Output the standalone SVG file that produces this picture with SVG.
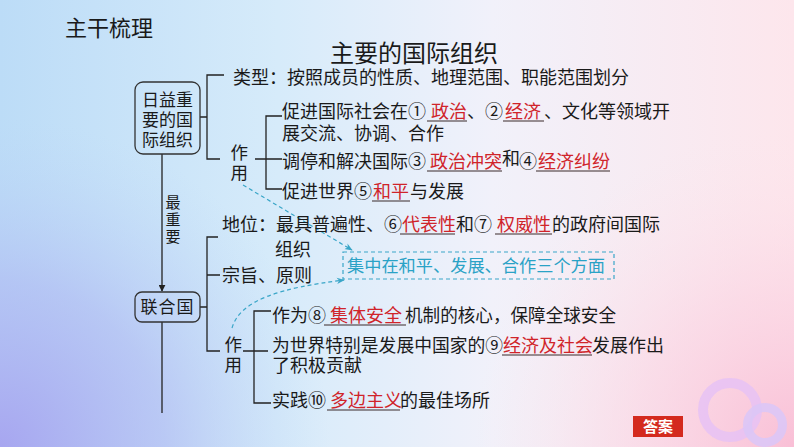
<svg xmlns="http://www.w3.org/2000/svg" width="794" height="447" viewBox="0 0 794 447">
<defs>
<linearGradient id="bgx" x1="0" y1="0" x2="1" y2="0">
<stop offset="0" stop-color="#bcdcf7"/>
<stop offset="0.35" stop-color="#d6ebfa"/>
<stop offset="0.62" stop-color="#f1f1fa"/>
<stop offset="1" stop-color="#fde6ec"/>
</linearGradient>
<radialGradient id="bl" cx="0" cy="447" r="330" gradientUnits="userSpaceOnUse">
<stop offset="0" stop-color="#a7a6f0" stop-opacity="1"/>
<stop offset="0.5" stop-color="#aeb6f2" stop-opacity="0.6"/>
<stop offset="1" stop-color="#bcd6f6" stop-opacity="0"/>
</radialGradient>
<radialGradient id="br" cx="794" cy="447" r="320" gradientUnits="userSpaceOnUse">
<stop offset="0" stop-color="#f9bfd6" stop-opacity="1"/>
<stop offset="0.5" stop-color="#fbd3e2" stop-opacity="0.6"/>
<stop offset="1" stop-color="#fde6ec" stop-opacity="0"/>
</radialGradient>
<marker id="ah" viewBox="0 0 10 10" refX="9" refY="5" markerWidth="7" markerHeight="7" orient="auto" markerUnits="userSpaceOnUse">
<path d="M0,0 L10,5 L0,10 Z" fill="#222"/>
</marker>
<marker id="ahc" viewBox="0 0 10 10" refX="9" refY="5" markerWidth="8" markerHeight="8" orient="auto" markerUnits="userSpaceOnUse">
<path d="M0,1 L10,5 L0,9 L3,5 Z" fill="#3aa6c8"/>
</marker>
<style>
text{font-family:"Liberation Sans","Noto Sans CJK SC","Noto Sans CJK JP",sans-serif;fill:#1a1a1a;}
.t{font-size:18px;}
.v{font-size:17.5px;}
.r{font-size:18px;fill:#d0242a;}
.n{font-size:17px;}
.ln{stroke:#222;stroke-width:1.3;fill:none;}
.ul{stroke:#3a2a2a;stroke-width:1.2;}
.box{fill:none;stroke:#333;stroke-width:1.3;}
.dash{stroke:#3aa6c8;stroke-width:1.2;fill:none;stroke-dasharray:4 3;}
.hand{font-size:17px;fill:#2aa2c6;}
</style>
</defs>
<rect x="0" y="0" width="794" height="447" fill="url(#bgx)"/>
<rect x="0" y="0" width="794" height="447" fill="url(#br)"/>
<rect x="0" y="0" width="794" height="447" fill="url(#bl)"/>
<g id="decor">
<circle cx="730" cy="410" r="27" fill="none" stroke="#e6c2f4" stroke-width="10" opacity="0.85"/>
<circle cx="765" cy="425" r="17.5" fill="none" stroke="#dcc6f6" stroke-width="9" opacity="0.9"/>
</g>
<g id="titles">
<text x="65" y="35.5" font-size="22">主干梳理</text>
<text x="414" y="62" font-size="24" text-anchor="middle">主要的国际组织</text>
</g>
<g id="connectors">
<path class="ln" d="M200,117 H207 M224,75 H207 V159 H220"/>
<path class="ln" d="M255,159 H282 M282,116 H266 V189 H282"/>
<path class="ln" d="M162,154 V291" marker-end="url(#ah)"/>
<path class="ln" d="M162,322 V413"/>
<path class="ln" d="M200,307 H207 M218,237 H207 V351 H220 M207,275 H220"/>
<path class="ln" d="M243,351 H268 M271,311 H254 V403 H271"/>
<path class="dash" d="M243,185 L352,250" marker-end="url(#ahc)"/>
<path class="dash" d="M232,328 C240,300 280,288 344,280" marker-end="url(#ahc)"/>
</g>
<g id="node-org">
<rect class="box" x="135" y="82" width="65" height="72" rx="8"/>
<text class="n" text-anchor="middle"><tspan x="167.5" y="106">日益重</tspan><tspan x="167.5" y="126">要的国</tspan><tspan x="167.5" y="146">际组织</tspan></text>
</g>
<g id="node-type">
<text class="t" x="233" y="83.5">类型：按照成员的性质、地理范围、职能范围划分</text>
</g>
<g id="node-role1">
<text class="v"><tspan x="230.5" y="158.5">作</tspan><tspan x="230.5" y="178.5">用</tspan></text>
</g>
<g id="node-role1-items">
<text class="t"><tspan x="282" y="117.5">促进国际社会在①</tspan><tspan x="282" y="139.5">展交流、协调、合作</tspan></text>
<line class="ul" x1="427" y1="121" x2="467" y2="121"/>
<text class="r" x="431" y="117.5">政治</text>
<text class="t" x="467" y="117.5">、②</text>
<line class="ul" x1="503" y1="121" x2="544" y2="121"/>
<text class="r" x="505" y="117.5">经济</text>
<text class="t" x="544" y="117.5">、文化等领域开</text>
<text class="t" x="282" y="167.5">调停和解决国际③</text>
<line class="ul" x1="427" y1="171" x2="502" y2="171"/>
<text class="r" x="430" y="167.5">政治冲突</text>
<text class="t" x="502" y="165">和</text>
<text class="t" x="519" y="167.5">④</text>
<line class="ul" x1="536" y1="171" x2="610" y2="171"/>
<text class="r" x="538" y="167.5">经济纠纷</text>
<text class="t" x="282" y="197.5">促进世界⑤</text>
<line class="ul" x1="372" y1="201" x2="410" y2="201"/>
<text class="r" x="373" y="197.5">和平</text>
<text class="t" x="410" y="197.5">与发展</text>
</g>
<g id="node-most">
<text font-size="15" text-anchor="middle"><tspan x="173" y="208">最</tspan><tspan x="173" y="225">重</tspan><tspan x="173" y="242">要</tspan></text>
</g>
<g id="node-un">
<rect class="box" x="135" y="292" width="65" height="30" rx="7"/>
<text class="n" x="167.5" y="313" text-anchor="middle" letter-spacing="1">联合国</text>
</g>
<g id="node-status">
<text class="t"><tspan x="222" y="230.5">地位：最具普遍性、⑥</tspan><tspan x="275" y="255.5">组织</tspan></text>
<line class="ul" x1="400" y1="234" x2="455" y2="234"/>
<text class="r" x="402" y="230.5">代表性</text>
<text class="t" x="456" y="230.5">和⑦</text>
<line class="ul" x1="495" y1="234" x2="552" y2="234"/>
<text class="r" x="497" y="230.5">权威性</text>
<text class="t" x="552" y="230.5">的政府间国际</text>
</g>
<g id="node-aim">
<text class="t" x="222" y="282">宗旨、原则</text>
</g>
<g id="node-note">
<rect x="343" y="252" width="271" height="27" fill="none" stroke="#3aa6c8" stroke-width="1.2" stroke-dasharray="4 3"/>
<text class="hand" x="347" y="272" textLength="258" lengthAdjust="spacingAndGlyphs">集中在和平、发展、合作三个方面</text>
</g>
<g id="node-role2">
<text class="v"><tspan x="224.5" y="350.5">作</tspan><tspan x="224.5" y="370.5">用</tspan></text>
</g>
<g id="node-role2-items">
<text class="t" x="272" y="321.5">作为⑧</text>
<line class="ul" x1="324" y1="325" x2="406" y2="325"/>
<text class="r" x="330" y="321.5">集体安全</text>
<text class="t" x="405" y="321.5" textLength="211" lengthAdjust="spacingAndGlyphs">机制的核心，保障全球安全</text>
<text class="t"><tspan x="272" y="351.5" textLength="231" lengthAdjust="spacingAndGlyphs">为世界特别是发展中国家的⑨</tspan><tspan x="272" y="372">了积极贡献</tspan></text>
<line class="ul" x1="502" y1="355" x2="592" y2="355"/>
<text class="r" x="503" y="351.5">经济及社会</text>
<text class="t" x="592" y="351.5">发展作出</text>
<text class="t" x="272" y="406.5">实践⑩</text>
<line class="ul" x1="327" y1="410" x2="400" y2="410"/>
<text class="r" x="330" y="406.5">多边主义</text>
<text class="t" x="400" y="406.5">的最佳场所</text>
</g>
<g id="btn-answer">
<rect x="633" y="416" width="50" height="21" fill="#d42a1e"/>
<text x="658" y="432" font-size="15" font-weight="bold" text-anchor="middle" style="fill:#ffffff">答案</text>
</g>
</svg>
